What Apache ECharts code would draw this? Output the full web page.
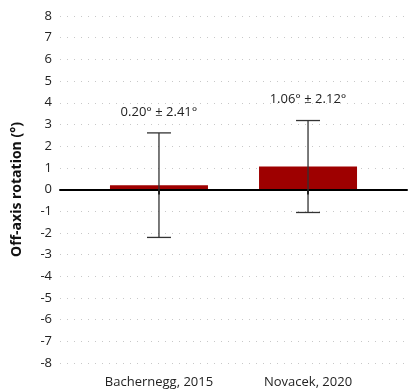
<!DOCTYPE html>
<html><head><meta charset="utf-8">
<script src="https://cdn.jsdelivr.net/npm/echarts@6/dist/echarts.min.js"></script>
<style>html,body{margin:0;padding:0;background:#fff}#c{width:408px;height:392px}</style>
</head><body><div id="c"></div>
<script>
var categories = ["Bachernegg, 2015", "Novacek, 2020"];
var means = [0.20, 1.06];
var sds = [2.41, 2.12];
var labels = ["0.20° ± 2.41°", "1.06° ± 2.12°"];
var yTicks = [-8, 8, 1];

var font = "'Open Sans', 'Noto Sans', sans-serif";
var chart = echarts.init(document.getElementById('c'));
var barData = means.map(function (m, i) { return [i, m]; });
var errData = means.map(function (m, i) { return [i, m - sds[i], m + sds[i], labels[i]]; });

chart.setOption({
  animation: false,
  grid: { left: 60, right: 1, top: 16, bottom: 29 },
  xAxis: {
    type: 'value', min: -0.664, max: 1.664,
    splitLine: { show: false },
    axisLine: { show: true, lineStyle: { color: '#000', width: 2 } },
    axisTick: { show: true, customValues: [0, 1], length: 5, lineStyle: { color: '#000', width: 2 } },
    axisLabel: { show: true, customValues: [0, 1], margin: 13, color: '#222', fontSize: 13, fontFamily: font,
      formatter: function (v) { return categories[Math.round(v)] || ''; } }
  },
  yAxis: {
    type: 'value', min: yTicks[0], max: yTicks[1], interval: yTicks[2],
    name: 'Off-axis rotation (°)', nameLocation: 'middle', nameGap: 36,
    nameTextStyle: { fontSize: 14, fontWeight: 'bold', color: '#111', fontFamily: font },
    axisLine: { show: false }, axisTick: { show: false },
    axisLabel: { color: '#222', fontSize: 13, margin: 8, fontFamily: font },
    splitLine: { show: true, lineStyle: { color: '#c8c8c8', type: [1, 6], width: 1 } }
  },
  series: [
    {
      type: 'bar', data: barData, barWidth: 98, itemStyle: { color: '#9e0000' },
      markLine: { symbol: 'none', silent: true, label: { show: false },
        lineStyle: { color: '#000', width: 2, type: 'solid' }, data: [{ yAxis: 0 }] }
    },
    {
      type: 'custom', data: errData, z: 10,
      renderItem: function (params, api) {
        var x = api.value(0);
        var lo = api.coord([x, api.value(1)]);
        var hi = api.coord([x, api.value(2)]);
        var cap = 12;
        var st = { stroke: '#333', lineWidth: 1.3 };
        return { type: 'group', children: [
          { type: 'line', shape: { x1: hi[0], y1: hi[1], x2: lo[0], y2: lo[1] }, style: st },
          { type: 'line', shape: { x1: hi[0] - cap, y1: hi[1], x2: hi[0] + cap, y2: hi[1] }, style: st },
          { type: 'line', shape: { x1: lo[0] - cap, y1: lo[1], x2: lo[0] + cap, y2: lo[1] }, style: st },
          { type: 'text', x: hi[0], y: hi[1] - 21, style: { text: api.value(3), fill: '#222', font: '13px ' + font, align: 'center', verticalAlign: 'middle' } }
        ] };
      }
    }
  ]
});
</script></body></html>
